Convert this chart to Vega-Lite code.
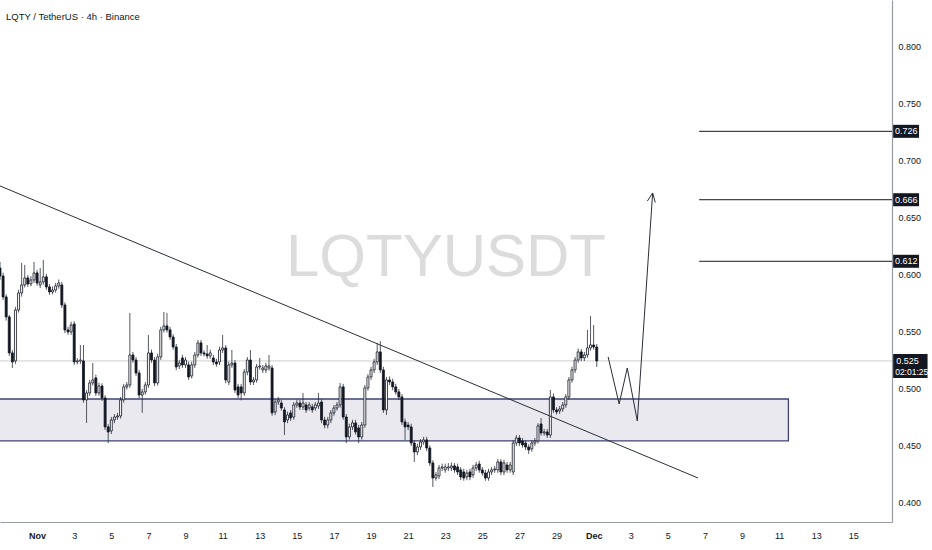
{
  "$schema": "https://vega.github.io/schema/vega-lite/v6.json",
  "width": 892,
  "height": 522,
  "autosize": {"type": "none"},
  "padding": {"left": 0, "top": 0, "right": 40, "bottom": 28},
  "background": "#ffffff",
  "title": {
    "text": "LQTY / TetherUS · 4h · Binance",
    "anchor": "start",
    "frame": "group",
    "offset": -21,
    "dx": 6,
    "fontSize": 9.5,
    "fontWeight": "normal",
    "font": "Liberation Sans, sans-serif",
    "color": "#131722"
  },
  "config": {
    "view": {"stroke": null},
    "font": "Liberation Sans, sans-serif"
  },
  "datasets": {
    "candles": [
      {"date": "2024-10-30T00:00", "open": 0.6061, "high": 0.6114, "low": 0.5956, "close": 0.5991},
      {"date": "2024-10-30T04:00", "open": 0.5991, "high": 0.6020, "low": 0.5780, "close": 0.5807},
      {"date": "2024-10-30T08:00", "open": 0.5807, "high": 0.5830, "low": 0.5600, "close": 0.5632},
      {"date": "2024-10-30T12:00", "open": 0.5632, "high": 0.5650, "low": 0.5290, "close": 0.5316},
      {"date": "2024-10-30T16:00", "open": 0.5316, "high": 0.5340, "low": 0.5184, "close": 0.5237},
      {"date": "2024-10-30T20:00", "open": 0.5246, "high": 0.5720, "low": 0.5220, "close": 0.5693},
      {"date": "2024-10-31T00:00", "open": 0.5693, "high": 0.5870, "low": 0.5670, "close": 0.5842},
      {"date": "2024-10-31T04:00", "open": 0.5842, "high": 0.6105, "low": 0.5810, "close": 0.5912},
      {"date": "2024-10-31T08:00", "open": 0.5912, "high": 0.6088, "low": 0.5890, "close": 0.5974},
      {"date": "2024-10-31T12:00", "open": 0.5974, "high": 0.6000, "low": 0.5895, "close": 0.5921},
      {"date": "2024-10-31T16:00", "open": 0.5921, "high": 0.5990, "low": 0.5900, "close": 0.5956},
      {"date": "2024-10-31T20:00", "open": 0.5956, "high": 0.6114, "low": 0.5930, "close": 0.6018},
      {"date": "2024-11-01T00:00", "open": 0.6018, "high": 0.6045, "low": 0.5905, "close": 0.5930},
      {"date": "2024-11-01T04:00", "open": 0.5912, "high": 0.6061, "low": 0.5885, "close": 0.5939},
      {"date": "2024-11-01T08:00", "open": 0.5939, "high": 0.6132, "low": 0.5915, "close": 0.5983},
      {"date": "2024-11-01T12:00", "open": 0.5983, "high": 0.6010, "low": 0.5870, "close": 0.5895},
      {"date": "2024-11-01T16:00", "open": 0.5895, "high": 0.5920, "low": 0.5825, "close": 0.5851},
      {"date": "2024-11-01T20:00", "open": 0.5851, "high": 0.5900, "low": 0.5830, "close": 0.5868},
      {"date": "2024-11-02T00:00", "open": 0.5868, "high": 0.5930, "low": 0.5845, "close": 0.5904},
      {"date": "2024-11-02T04:00", "open": 0.5904, "high": 0.5960, "low": 0.5880, "close": 0.5930},
      {"date": "2024-11-02T08:00", "open": 0.5912, "high": 0.5940, "low": 0.5710, "close": 0.5737},
      {"date": "2024-11-02T12:00", "open": 0.5737, "high": 0.5760, "low": 0.5490, "close": 0.5518},
      {"date": "2024-11-02T16:00", "open": 0.5518, "high": 0.5545, "low": 0.5475, "close": 0.5500},
      {"date": "2024-11-02T20:00", "open": 0.5500, "high": 0.5590, "low": 0.5475, "close": 0.5561},
      {"date": "2024-11-03T00:00", "open": 0.5570, "high": 0.5595, "low": 0.5210, "close": 0.5237},
      {"date": "2024-11-03T04:00", "open": 0.5237, "high": 0.5270, "low": 0.5215, "close": 0.5246},
      {"date": "2024-11-03T08:00", "open": 0.5246, "high": 0.5386, "low": 0.5220, "close": 0.5254},
      {"date": "2024-11-03T12:00", "open": 0.5246, "high": 0.5386, "low": 0.4880, "close": 0.4904},
      {"date": "2024-11-03T16:00", "open": 0.4904, "high": 0.4990, "low": 0.4702, "close": 0.4965},
      {"date": "2024-11-03T20:00", "open": 0.4965, "high": 0.5080, "low": 0.4940, "close": 0.5053},
      {"date": "2024-11-04T00:00", "open": 0.5053, "high": 0.5228, "low": 0.5030, "close": 0.5079},
      {"date": "2024-11-04T04:00", "open": 0.5097, "high": 0.5125, "low": 0.4940, "close": 0.4965},
      {"date": "2024-11-04T08:00", "open": 0.4965, "high": 0.5055, "low": 0.4940, "close": 0.5026},
      {"date": "2024-11-04T12:00", "open": 0.5026, "high": 0.5050, "low": 0.4895, "close": 0.4921},
      {"date": "2024-11-04T16:00", "open": 0.4921, "high": 0.4945, "low": 0.4640, "close": 0.4667},
      {"date": "2024-11-04T20:00", "open": 0.4667, "high": 0.4690, "low": 0.4526, "close": 0.4623},
      {"date": "2024-11-05T00:00", "open": 0.4632, "high": 0.4755, "low": 0.4605, "close": 0.4728},
      {"date": "2024-11-05T04:00", "open": 0.4728, "high": 0.4780, "low": 0.4700, "close": 0.4754},
      {"date": "2024-11-05T08:00", "open": 0.4754, "high": 0.4790, "low": 0.4730, "close": 0.4763},
      {"date": "2024-11-05T12:00", "open": 0.4763, "high": 0.4930, "low": 0.4740, "close": 0.4904},
      {"date": "2024-11-05T16:00", "open": 0.4904, "high": 0.5045, "low": 0.4880, "close": 0.5018},
      {"date": "2024-11-05T20:00", "open": 0.5018, "high": 0.5060, "low": 0.4995, "close": 0.5035},
      {"date": "2024-11-06T00:00", "open": 0.5035, "high": 0.5667, "low": 0.5010, "close": 0.5298},
      {"date": "2024-11-06T04:00", "open": 0.5298, "high": 0.5325, "low": 0.5230, "close": 0.5254},
      {"date": "2024-11-06T08:00", "open": 0.5254, "high": 0.5280, "low": 0.5115, "close": 0.5140},
      {"date": "2024-11-06T12:00", "open": 0.5140, "high": 0.5165, "low": 0.4920, "close": 0.4947},
      {"date": "2024-11-06T16:00", "open": 0.4947, "high": 0.5000, "low": 0.4790, "close": 0.4974},
      {"date": "2024-11-06T20:00", "open": 0.4974, "high": 0.5060, "low": 0.4950, "close": 0.5035},
      {"date": "2024-11-07T00:00", "open": 0.5035, "high": 0.5474, "low": 0.5010, "close": 0.5316},
      {"date": "2024-11-07T04:00", "open": 0.5316, "high": 0.5345, "low": 0.5230, "close": 0.5254},
      {"date": "2024-11-07T08:00", "open": 0.5254, "high": 0.5280, "low": 0.5025, "close": 0.5053},
      {"date": "2024-11-07T12:00", "open": 0.5053, "high": 0.5310, "low": 0.5030, "close": 0.5281},
      {"date": "2024-11-07T16:00", "open": 0.5281, "high": 0.5545, "low": 0.5255, "close": 0.5518},
      {"date": "2024-11-07T20:00", "open": 0.5518, "high": 0.5675, "low": 0.5495, "close": 0.5553},
      {"date": "2024-11-08T00:00", "open": 0.5553, "high": 0.5667, "low": 0.5495, "close": 0.5518},
      {"date": "2024-11-08T04:00", "open": 0.5518, "high": 0.5545, "low": 0.5430, "close": 0.5456},
      {"date": "2024-11-08T08:00", "open": 0.5456, "high": 0.5480, "low": 0.5345, "close": 0.5368},
      {"date": "2024-11-08T12:00", "open": 0.5368, "high": 0.5395, "low": 0.5165, "close": 0.5193},
      {"date": "2024-11-08T16:00", "open": 0.5202, "high": 0.5255, "low": 0.5175, "close": 0.5228},
      {"date": "2024-11-08T20:00", "open": 0.5272, "high": 0.5300, "low": 0.5185, "close": 0.5211},
      {"date": "2024-11-09T00:00", "open": 0.5211, "high": 0.5280, "low": 0.5185, "close": 0.5254},
      {"date": "2024-11-09T04:00", "open": 0.5211, "high": 0.5240, "low": 0.5080, "close": 0.5105},
      {"date": "2024-11-09T08:00", "open": 0.5114, "high": 0.5240, "low": 0.5090, "close": 0.5211},
      {"date": "2024-11-09T12:00", "open": 0.5211, "high": 0.5325, "low": 0.5185, "close": 0.5298},
      {"date": "2024-11-09T16:00", "open": 0.5298, "high": 0.5430, "low": 0.5275, "close": 0.5404},
      {"date": "2024-11-09T20:00", "open": 0.5404, "high": 0.5430, "low": 0.5290, "close": 0.5316},
      {"date": "2024-11-10T00:00", "open": 0.5316, "high": 0.5340, "low": 0.5285, "close": 0.5307},
      {"date": "2024-11-10T04:00", "open": 0.5307, "high": 0.5386, "low": 0.5265, "close": 0.5290},
      {"date": "2024-11-10T08:00", "open": 0.5290, "high": 0.5345, "low": 0.5265, "close": 0.5316},
      {"date": "2024-11-10T12:00", "open": 0.5272, "high": 0.5300, "low": 0.5210, "close": 0.5237},
      {"date": "2024-11-10T16:00", "open": 0.5237, "high": 0.5265, "low": 0.5195, "close": 0.5219},
      {"date": "2024-11-10T20:00", "open": 0.5237, "high": 0.5370, "low": 0.5210, "close": 0.5342},
      {"date": "2024-11-11T00:00", "open": 0.5342, "high": 0.5474, "low": 0.5315, "close": 0.5360},
      {"date": "2024-11-11T04:00", "open": 0.5360, "high": 0.5385, "low": 0.5050, "close": 0.5079},
      {"date": "2024-11-11T08:00", "open": 0.5061, "high": 0.5240, "low": 0.5035, "close": 0.5211},
      {"date": "2024-11-11T12:00", "open": 0.5211, "high": 0.5342, "low": 0.5185, "close": 0.5228},
      {"date": "2024-11-11T16:00", "open": 0.5228, "high": 0.5255, "low": 0.4965, "close": 0.4991},
      {"date": "2024-11-11T20:00", "open": 0.5018, "high": 0.5045, "low": 0.4920, "close": 0.4947},
      {"date": "2024-11-12T00:00", "open": 0.5018, "high": 0.5045, "low": 0.4900, "close": 0.4965},
      {"date": "2024-11-12T04:00", "open": 0.4965, "high": 0.5175, "low": 0.4940, "close": 0.5149},
      {"date": "2024-11-12T08:00", "open": 0.5149, "high": 0.5280, "low": 0.5120, "close": 0.5254},
      {"date": "2024-11-12T12:00", "open": 0.5254, "high": 0.5342, "low": 0.5035, "close": 0.5061},
      {"date": "2024-11-12T16:00", "open": 0.5061, "high": 0.5105, "low": 0.5035, "close": 0.5079},
      {"date": "2024-11-12T20:00", "open": 0.5079, "high": 0.5220, "low": 0.5055, "close": 0.5193},
      {"date": "2024-11-13T00:00", "open": 0.5193, "high": 0.5272, "low": 0.5170, "close": 0.5202},
      {"date": "2024-11-13T04:00", "open": 0.5167, "high": 0.5210, "low": 0.5140, "close": 0.5184},
      {"date": "2024-11-13T08:00", "open": 0.5167, "high": 0.5230, "low": 0.5140, "close": 0.5202},
      {"date": "2024-11-13T12:00", "open": 0.5184, "high": 0.5298, "low": 0.5160, "close": 0.5202},
      {"date": "2024-11-13T16:00", "open": 0.5184, "high": 0.5210, "low": 0.4765, "close": 0.4790},
      {"date": "2024-11-13T20:00", "open": 0.4798, "high": 0.4910, "low": 0.4770, "close": 0.4886},
      {"date": "2024-11-14T00:00", "open": 0.4886, "high": 0.4930, "low": 0.4860, "close": 0.4904},
      {"date": "2024-11-14T04:00", "open": 0.4877, "high": 0.4905, "low": 0.4810, "close": 0.4833},
      {"date": "2024-11-14T08:00", "open": 0.4816, "high": 0.4840, "low": 0.4596, "close": 0.4711},
      {"date": "2024-11-14T12:00", "open": 0.4728, "high": 0.4800, "low": 0.4700, "close": 0.4772},
      {"date": "2024-11-14T16:00", "open": 0.4790, "high": 0.4815, "low": 0.4720, "close": 0.4746},
      {"date": "2024-11-14T20:00", "open": 0.4754, "high": 0.4885, "low": 0.4730, "close": 0.4860},
      {"date": "2024-11-15T00:00", "open": 0.4860, "high": 0.4905, "low": 0.4835, "close": 0.4877},
      {"date": "2024-11-15T04:00", "open": 0.4877, "high": 0.4905, "low": 0.4815, "close": 0.4842},
      {"date": "2024-11-15T08:00", "open": 0.4842, "high": 0.4965, "low": 0.4815, "close": 0.4877},
      {"date": "2024-11-15T12:00", "open": 0.4860, "high": 0.4885, "low": 0.4790, "close": 0.4816},
      {"date": "2024-11-15T16:00", "open": 0.4833, "high": 0.4885, "low": 0.4810, "close": 0.4860},
      {"date": "2024-11-15T20:00", "open": 0.4842, "high": 0.4870, "low": 0.4790, "close": 0.4816},
      {"date": "2024-11-16T00:00", "open": 0.4833, "high": 0.4885, "low": 0.4810, "close": 0.4860},
      {"date": "2024-11-16T04:00", "open": 0.4851, "high": 0.4965, "low": 0.4825, "close": 0.4877},
      {"date": "2024-11-16T08:00", "open": 0.4886, "high": 0.4910, "low": 0.4700, "close": 0.4728},
      {"date": "2024-11-16T12:00", "open": 0.4728, "high": 0.4755, "low": 0.4655, "close": 0.4684},
      {"date": "2024-11-16T16:00", "open": 0.4684, "high": 0.4755, "low": 0.4655, "close": 0.4728},
      {"date": "2024-11-16T20:00", "open": 0.4728, "high": 0.4815, "low": 0.4700, "close": 0.4790},
      {"date": "2024-11-17T00:00", "open": 0.4790, "high": 0.4860, "low": 0.4765, "close": 0.4833},
      {"date": "2024-11-17T04:00", "open": 0.4833, "high": 0.4885, "low": 0.4810, "close": 0.4860},
      {"date": "2024-11-17T08:00", "open": 0.4860, "high": 0.5053, "low": 0.4835, "close": 0.5018},
      {"date": "2024-11-17T12:00", "open": 0.5018, "high": 0.5045, "low": 0.4730, "close": 0.4754},
      {"date": "2024-11-17T16:00", "open": 0.4754, "high": 0.4780, "low": 0.4526, "close": 0.4579},
      {"date": "2024-11-17T20:00", "open": 0.4579, "high": 0.4695, "low": 0.4555, "close": 0.4667},
      {"date": "2024-11-18T00:00", "open": 0.4667, "high": 0.4730, "low": 0.4640, "close": 0.4702},
      {"date": "2024-11-18T04:00", "open": 0.4702, "high": 0.4730, "low": 0.4600, "close": 0.4623},
      {"date": "2024-11-18T08:00", "open": 0.4658, "high": 0.4685, "low": 0.4526, "close": 0.4579},
      {"date": "2024-11-18T12:00", "open": 0.4579, "high": 0.4710, "low": 0.4555, "close": 0.4684},
      {"date": "2024-11-18T16:00", "open": 0.4684, "high": 0.5035, "low": 0.4660, "close": 0.5009},
      {"date": "2024-11-18T20:00", "open": 0.5009, "high": 0.5130, "low": 0.4985, "close": 0.5105},
      {"date": "2024-11-19T00:00", "open": 0.5105, "high": 0.5195, "low": 0.5080, "close": 0.5167},
      {"date": "2024-11-19T04:00", "open": 0.5167, "high": 0.5265, "low": 0.5140, "close": 0.5237},
      {"date": "2024-11-19T08:00", "open": 0.5237, "high": 0.5404, "low": 0.5210, "close": 0.5325},
      {"date": "2024-11-19T12:00", "open": 0.5325, "high": 0.5420, "low": 0.5140, "close": 0.5167},
      {"date": "2024-11-19T16:00", "open": 0.5167, "high": 0.5195, "low": 0.4790, "close": 0.4816},
      {"date": "2024-11-19T20:00", "open": 0.4816, "high": 0.5105, "low": 0.4772, "close": 0.5079},
      {"date": "2024-11-20T00:00", "open": 0.5079, "high": 0.5110, "low": 0.5035, "close": 0.5061},
      {"date": "2024-11-20T04:00", "open": 0.5061, "high": 0.5090, "low": 0.4990, "close": 0.5018},
      {"date": "2024-11-20T08:00", "open": 0.5018, "high": 0.5045, "low": 0.4950, "close": 0.4974},
      {"date": "2024-11-20T12:00", "open": 0.4974, "high": 0.5000, "low": 0.4905, "close": 0.4930},
      {"date": "2024-11-20T16:00", "open": 0.4930, "high": 0.4955, "low": 0.4685, "close": 0.4711},
      {"date": "2024-11-20T20:00", "open": 0.4711, "high": 0.4740, "low": 0.4553, "close": 0.4667},
      {"date": "2024-11-21T00:00", "open": 0.4684, "high": 0.4710, "low": 0.4640, "close": 0.4667},
      {"date": "2024-11-21T04:00", "open": 0.4667, "high": 0.4695, "low": 0.4500, "close": 0.4526},
      {"date": "2024-11-21T08:00", "open": 0.4526, "high": 0.4550, "low": 0.4360, "close": 0.4447},
      {"date": "2024-11-21T12:00", "open": 0.4447, "high": 0.4520, "low": 0.4420, "close": 0.4491},
      {"date": "2024-11-21T16:00", "open": 0.4491, "high": 0.4560, "low": 0.4465, "close": 0.4535},
      {"date": "2024-11-21T20:00", "open": 0.4535, "high": 0.4580, "low": 0.4510, "close": 0.4553},
      {"date": "2024-11-22T00:00", "open": 0.4553, "high": 0.4580, "low": 0.4455, "close": 0.4482},
      {"date": "2024-11-22T04:00", "open": 0.4482, "high": 0.4505, "low": 0.4325, "close": 0.4351},
      {"date": "2024-11-22T08:00", "open": 0.4351, "high": 0.4375, "low": 0.4140, "close": 0.4219},
      {"date": "2024-11-22T12:00", "open": 0.4219, "high": 0.4270, "low": 0.4195, "close": 0.4246},
      {"date": "2024-11-22T16:00", "open": 0.4237, "high": 0.4335, "low": 0.4210, "close": 0.4307},
      {"date": "2024-11-22T20:00", "open": 0.4307, "high": 0.4345, "low": 0.4280, "close": 0.4316},
      {"date": "2024-11-23T00:00", "open": 0.4290, "high": 0.4345, "low": 0.4265, "close": 0.4316},
      {"date": "2024-11-23T04:00", "open": 0.4307, "high": 0.4350, "low": 0.4280, "close": 0.4316},
      {"date": "2024-11-23T08:00", "open": 0.4307, "high": 0.4355, "low": 0.4280, "close": 0.4325},
      {"date": "2024-11-23T12:00", "open": 0.4325, "high": 0.4350, "low": 0.4265, "close": 0.4290},
      {"date": "2024-11-23T16:00", "open": 0.4316, "high": 0.4345, "low": 0.4245, "close": 0.4272},
      {"date": "2024-11-23T20:00", "open": 0.4290, "high": 0.4315, "low": 0.4200, "close": 0.4228},
      {"date": "2024-11-24T00:00", "open": 0.4272, "high": 0.4300, "low": 0.4195, "close": 0.4219},
      {"date": "2024-11-24T04:00", "open": 0.4228, "high": 0.4290, "low": 0.4200, "close": 0.4263},
      {"date": "2024-11-24T08:00", "open": 0.4272, "high": 0.4300, "low": 0.4200, "close": 0.4228},
      {"date": "2024-11-24T12:00", "open": 0.4246, "high": 0.4335, "low": 0.4220, "close": 0.4307},
      {"date": "2024-11-24T16:00", "open": 0.4307, "high": 0.4360, "low": 0.4280, "close": 0.4333},
      {"date": "2024-11-24T20:00", "open": 0.4342, "high": 0.4370, "low": 0.4265, "close": 0.4290},
      {"date": "2024-11-25T00:00", "open": 0.4290, "high": 0.4315, "low": 0.4240, "close": 0.4263},
      {"date": "2024-11-25T04:00", "open": 0.4263, "high": 0.4290, "low": 0.4195, "close": 0.4219},
      {"date": "2024-11-25T08:00", "open": 0.4219, "high": 0.4300, "low": 0.4195, "close": 0.4272},
      {"date": "2024-11-25T12:00", "open": 0.4272, "high": 0.4315, "low": 0.4245, "close": 0.4290},
      {"date": "2024-11-25T16:00", "open": 0.4290, "high": 0.4325, "low": 0.4265, "close": 0.4298},
      {"date": "2024-11-25T20:00", "open": 0.4290, "high": 0.4385, "low": 0.4265, "close": 0.4360},
      {"date": "2024-11-26T00:00", "open": 0.4360, "high": 0.4385, "low": 0.4245, "close": 0.4272},
      {"date": "2024-11-26T04:00", "open": 0.4272, "high": 0.4378, "low": 0.4245, "close": 0.4351},
      {"date": "2024-11-26T08:00", "open": 0.4333, "high": 0.4360, "low": 0.4265, "close": 0.4290},
      {"date": "2024-11-26T12:00", "open": 0.4290, "high": 0.4360, "low": 0.4265, "close": 0.4333},
      {"date": "2024-11-26T16:00", "open": 0.4272, "high": 0.4550, "low": 0.4245, "close": 0.4526},
      {"date": "2024-11-26T20:00", "open": 0.4526, "high": 0.4595, "low": 0.4500, "close": 0.4570},
      {"date": "2024-11-27T00:00", "open": 0.4570, "high": 0.4595, "low": 0.4500, "close": 0.4526},
      {"date": "2024-11-27T04:00", "open": 0.4544, "high": 0.4570, "low": 0.4485, "close": 0.4509},
      {"date": "2024-11-27T08:00", "open": 0.4526, "high": 0.4550, "low": 0.4465, "close": 0.4491},
      {"date": "2024-11-27T12:00", "open": 0.4491, "high": 0.4515, "low": 0.4430, "close": 0.4465},
      {"date": "2024-11-27T16:00", "open": 0.4474, "high": 0.4550, "low": 0.4450, "close": 0.4526},
      {"date": "2024-11-27T20:00", "open": 0.4526, "high": 0.4570, "low": 0.4500, "close": 0.4544},
      {"date": "2024-11-28T00:00", "open": 0.4544, "high": 0.4700, "low": 0.4520, "close": 0.4676},
      {"date": "2024-11-28T04:00", "open": 0.4693, "high": 0.4746, "low": 0.4590, "close": 0.4614},
      {"date": "2024-11-28T08:00", "open": 0.4614, "high": 0.4650, "low": 0.4590, "close": 0.4623},
      {"date": "2024-11-28T12:00", "open": 0.4623, "high": 0.4650, "low": 0.4570, "close": 0.4596},
      {"date": "2024-11-28T16:00", "open": 0.4596, "high": 0.4991, "low": 0.4570, "close": 0.4930},
      {"date": "2024-11-28T20:00", "open": 0.4930, "high": 0.4960, "low": 0.4790, "close": 0.4816},
      {"date": "2024-11-29T00:00", "open": 0.4816, "high": 0.4840, "low": 0.4775, "close": 0.4798},
      {"date": "2024-11-29T04:00", "open": 0.4807, "high": 0.4850, "low": 0.4780, "close": 0.4825},
      {"date": "2024-11-29T08:00", "open": 0.4825, "high": 0.4885, "low": 0.4800, "close": 0.4860},
      {"date": "2024-11-29T12:00", "open": 0.4860, "high": 0.4955, "low": 0.4835, "close": 0.4930},
      {"date": "2024-11-29T16:00", "open": 0.4930, "high": 0.5105, "low": 0.4905, "close": 0.5079},
      {"date": "2024-11-29T20:00", "open": 0.5079, "high": 0.5195, "low": 0.5055, "close": 0.5167},
      {"date": "2024-11-30T00:00", "open": 0.5167, "high": 0.5280, "low": 0.5140, "close": 0.5254},
      {"date": "2024-11-30T04:00", "open": 0.5254, "high": 0.5355, "low": 0.5230, "close": 0.5325},
      {"date": "2024-11-30T08:00", "open": 0.5325, "high": 0.5350, "low": 0.5245, "close": 0.5272},
      {"date": "2024-11-30T12:00", "open": 0.5272, "high": 0.5325, "low": 0.5245, "close": 0.5298},
      {"date": "2024-11-30T16:00", "open": 0.5298, "high": 0.5518, "low": 0.5275, "close": 0.5360},
      {"date": "2024-11-30T20:00", "open": 0.5360, "high": 0.5640, "low": 0.5335, "close": 0.5386},
      {"date": "2024-12-01T00:00", "open": 0.5386, "high": 0.5561, "low": 0.5345, "close": 0.5368},
      {"date": "2024-12-01T04:00", "open": 0.5368, "high": 0.5395, "low": 0.5193, "close": 0.5246}
    ],
    "zone": [
      {"start": "2024-10-29T00:00", "end": "2024-12-11T12:00", "bottom": 0.4544, "top": 0.4912}
    ],
    "levels": [
      {"level": 0.726, "label": "0.726"},
      {"level": 0.666, "label": "0.666"},
      {"level": 0.612, "label": "0.612"}
    ],
    "last": [
      {"level": 0.5246, "label": "0.525", "timer": "02:01:25"}
    ],
    "trend": [
      {"date": "2024-10-30T00:00", "price": 0.6781},
      {"date": "2024-12-06T15:00", "price": 0.4219}
    ],
    "path": [
      {"part": "zigzag", "step": 1, "date": "2024-12-01T18:45", "price": 0.5281},
      {"part": "zigzag", "step": 2, "date": "2024-12-02T09:00", "price": 0.4868},
      {"part": "zigzag", "step": 3, "date": "2024-12-02T19:30", "price": 0.5184},
      {"part": "zigzag", "step": 4, "date": "2024-12-03T08:30", "price": 0.4719},
      {"part": "zigzag", "step": 5, "date": "2024-12-04T04:20", "price": 0.6719},
      {"part": "head", "step": 1, "date": "2024-12-03T21:25", "price": 0.6647},
      {"part": "head", "step": 2, "date": "2024-12-04T04:20", "price": 0.6719},
      {"part": "head", "step": 3, "date": "2024-12-04T07:45", "price": 0.6636}
    ],
    "watermark": [
      {"text": "LQTYUSDT", "date": "2024-11-23T01:00", "price": 0.6149}
    ]
  },
  "layer": [
    {
      "data": {"name": "watermark"},
      "mark": {"type": "text", "fontSize": 60, "color": "#dcdcdc", "align": "center", "baseline": "middle"},
      "encoding": {
        "x": {"field": "date", "type": "temporal", "title": null},
        "y": {"field": "price", "type": "quantitative", "title": null},
        "text": {"field": "text"}
      }
    },
    {
      "data": {"name": "zone"},
      "mark": {"type": "rect", "fill": "#e9e9ef", "stroke": "#3f4273", "strokeWidth": 1.3, "clip": true},
      "encoding": {
        "x": {"field": "start", "type": "temporal", "title": null},
        "x2": {"field": "end"},
        "y": {"field": "bottom", "type": "quantitative", "title": null},
        "y2": {"field": "top"}
      }
    },
    {
      "data": {"name": "last"},
      "mark": {"type": "rule", "color": "#cfcfcf", "strokeWidth": 1},
      "encoding": {
        "y": {"field": "level", "type": "quantitative", "title": null}
      }
    },
    {
      "data": {"name": "candles"},
      "mark": {"type": "rule", "color": "#2a2e39", "strokeWidth": 0.8, "clip": true},
      "encoding": {
        "x": {"field": "date", "type": "temporal", "title": null},
        "y": {"field": "low", "type": "quantitative", "title": null},
        "y2": {"field": "high"}
      }
    },
    {
      "data": {"name": "candles"},
      "mark": {"type": "bar", "width": 2, "stroke": "#131722", "strokeWidth": 0.8, "clip": true},
      "encoding": {
        "x": {
          "field": "date",
          "type": "temporal",
          "title": null,
          "scale": {"domain": [{"year": 2024, "month": 10, "date": 30}, {"year": 2024, "month": 12, "date": 17, "hours": 2}], "padding": 0, "nice": false},
          "axis": {
            "values": [
              {"year": 2024, "month": 11, "date": 1}, {"year": 2024, "month": 11, "date": 3},
              {"year": 2024, "month": 11, "date": 5}, {"year": 2024, "month": 11, "date": 7},
              {"year": 2024, "month": 11, "date": 9}, {"year": 2024, "month": 11, "date": 11},
              {"year": 2024, "month": 11, "date": 13}, {"year": 2024, "month": 11, "date": 15},
              {"year": 2024, "month": 11, "date": 17}, {"year": 2024, "month": 11, "date": 19},
              {"year": 2024, "month": 11, "date": 21}, {"year": 2024, "month": 11, "date": 23},
              {"year": 2024, "month": 11, "date": 25}, {"year": 2024, "month": 11, "date": 27},
              {"year": 2024, "month": 11, "date": 29}, {"year": 2024, "month": 12, "date": 1},
              {"year": 2024, "month": 12, "date": 3}, {"year": 2024, "month": 12, "date": 5},
              {"year": 2024, "month": 12, "date": 7}, {"year": 2024, "month": 12, "date": 9},
              {"year": 2024, "month": 12, "date": 11}, {"year": 2024, "month": 12, "date": 13},
              {"year": 2024, "month": 12, "date": 15}
            ],
            "labelExpr": "date(datum.value) == 1 ? timeFormat(datum.value, '%b') : '' + date(datum.value)",
            "labelFontWeight": {"condition": {"test": "date(datum.value) == 1", "value": "bold"}, "value": "normal"},
            "labelOverlap": false,
            "labelFontSize": 9,
            "labelColor": "#131722",
            "labelPadding": 9,
            "ticks": false,
            "grid": false,
            "domainColor": "#9a9ca3",
            "domainWidth": 1.2
          }
        },
        "y": {
          "field": "open",
          "type": "quantitative",
          "title": null,
          "scale": {"domain": [0.3833, 0.8412], "zero": false, "nice": false, "padding": 0},
          "axis": {
            "orient": "right",
            "values": [0.4, 0.45, 0.5, 0.55, 0.6, 0.65, 0.7, 0.75, 0.8],
            "format": ".3f",
            "labelFontSize": 9,
            "labelColor": "#131722",
            "labelPadding": 6,
            "ticks": false,
            "grid": false,
            "domainColor": "#9a9ca3",
            "domainWidth": 1.2
          }
        },
        "y2": {"field": "close"},
        "fill": {
          "condition": {"test": "datum.close >= datum.open", "value": "#ffffff"},
          "value": "#131722"
        }
      }
    },
    {
      "data": {"name": "trend"},
      "mark": {"type": "line", "color": "#2a2e39", "strokeWidth": 1, "clip": true},
      "encoding": {
        "x": {"field": "date", "type": "temporal", "title": null},
        "y": {"field": "price", "type": "quantitative", "title": null}
      }
    },
    {
      "data": {"name": "levels"},
      "mark": {"type": "rule", "color": "#131722", "strokeWidth": 1},
      "encoding": {
        "x": {"datum": {"year": 2024, "month": 12, "date": 6, "hours": 16, "minutes": 30}, "type": "temporal"},
        "x2": {"datum": {"year": 2024, "month": 12, "date": 17, "hours": 2}},
        "y": {"field": "level", "type": "quantitative", "title": null}
      }
    },
    {
      "data": {"name": "path"},
      "mark": {"type": "line", "color": "#2a2e39", "strokeWidth": 1},
      "encoding": {
        "x": {"field": "date", "type": "temporal", "title": null},
        "y": {"field": "price", "type": "quantitative", "title": null},
        "detail": {"field": "part"},
        "order": {"field": "step", "type": "quantitative"}
      }
    },
    {
      "data": {"name": "levels"},
      "mark": {"type": "rect", "fill": "#131722", "yOffset": -6.5, "y2Offset": 6.5},
      "encoding": {
        "x": {"datum": {"year": 2024, "month": 12, "date": 17, "hours": 3, "minutes": 30}, "type": "temporal"},
        "x2": {"datum": {"year": 2024, "month": 12, "date": 18, "hours": 13}},
        "y": {"field": "level", "type": "quantitative", "title": null},
        "y2": {"field": "level"}
      }
    },
    {
      "data": {"name": "levels"},
      "mark": {"type": "text", "color": "#ffffff", "fontSize": 9, "align": "center", "baseline": "middle"},
      "encoding": {
        "x": {"datum": {"year": 2024, "month": 12, "date": 17, "hours": 20, "minutes": 20}, "type": "temporal"},
        "y": {"field": "level", "type": "quantitative", "title": null},
        "text": {"field": "label"}
      }
    },
    {
      "data": {"name": "last"},
      "mark": {"type": "rect", "fill": "#131722", "yOffset": -7, "y2Offset": 17},
      "encoding": {
        "x": {"datum": {"year": 2024, "month": 12, "date": 17, "hours": 3, "minutes": 30}, "type": "temporal"},
        "x2": {"datum": {"year": 2024, "month": 12, "date": 19, "hours": 0}},
        "y": {"field": "level", "type": "quantitative", "title": null},
        "y2": {"field": "level"}
      }
    },
    {
      "data": {"name": "last"},
      "mark": {"type": "text", "color": "#ffffff", "fontSize": 9, "align": "left", "baseline": "middle", "dx": 3},
      "encoding": {
        "x": {"datum": {"year": 2024, "month": 12, "date": 17, "hours": 3, "minutes": 30}, "type": "temporal"},
        "y": {"field": "level", "type": "quantitative", "title": null},
        "text": {"field": "label"}
      }
    },
    {
      "data": {"name": "last"},
      "mark": {"type": "text", "color": "#ffffff", "fontSize": 8.5, "align": "left", "baseline": "middle", "dx": 2, "dy": 11},
      "encoding": {
        "x": {"datum": {"year": 2024, "month": 12, "date": 17, "hours": 3, "minutes": 30}, "type": "temporal"},
        "y": {"field": "level", "type": "quantitative", "title": null},
        "text": {"field": "timer"}
      }
    }
  ]
}
